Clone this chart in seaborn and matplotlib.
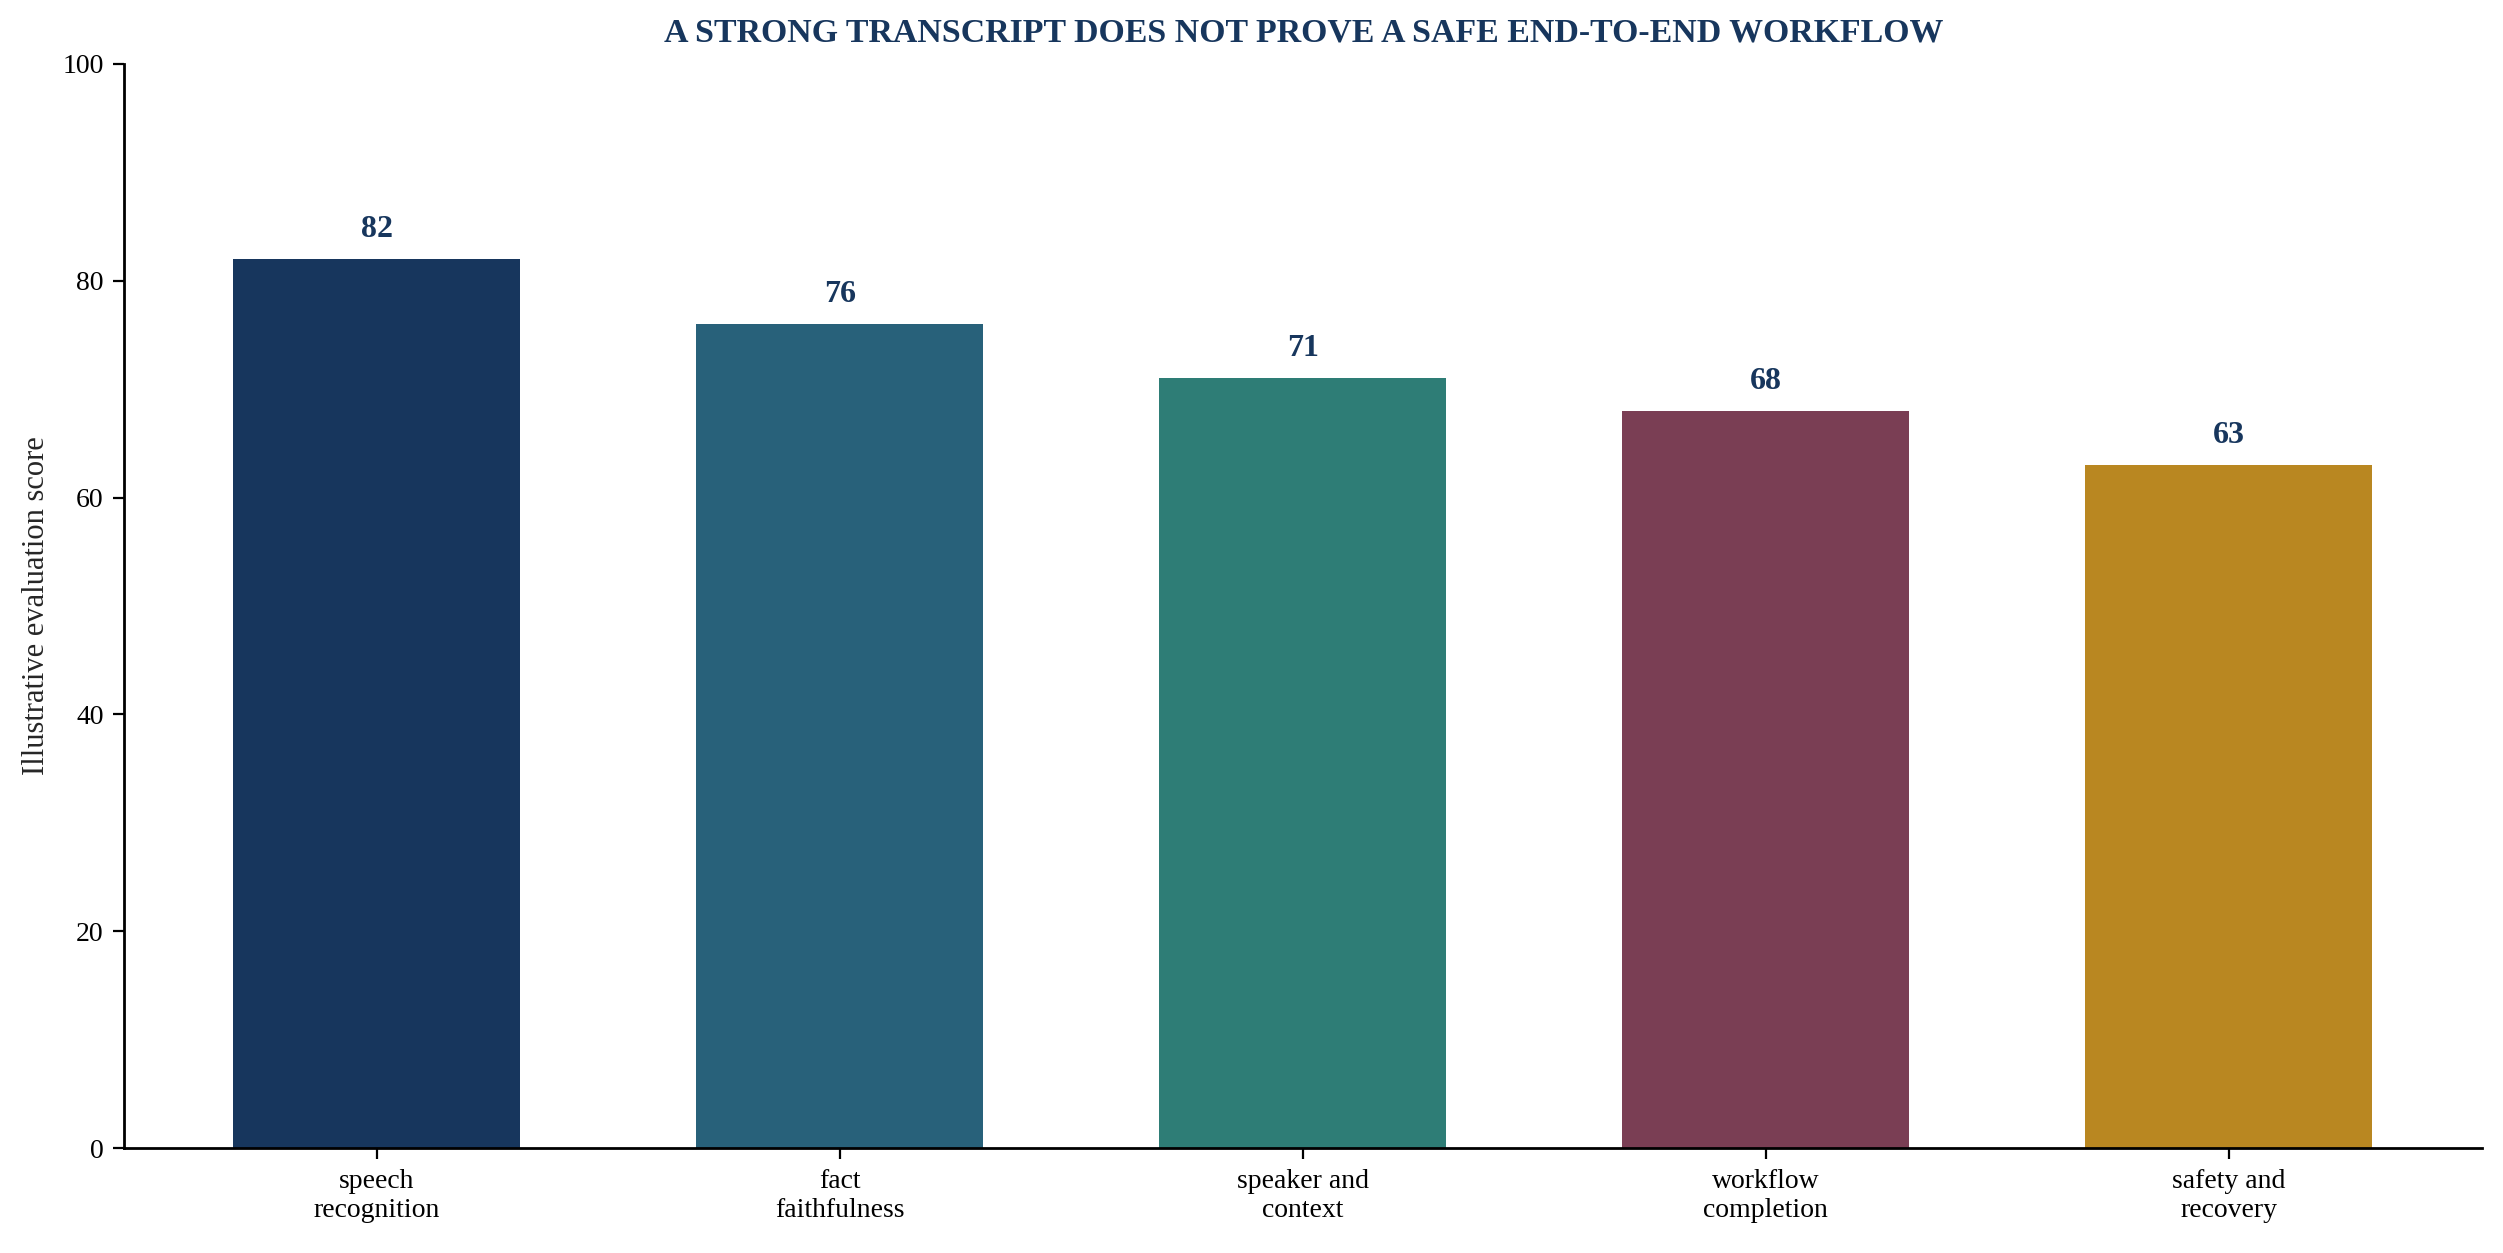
import matplotlib
matplotlib.use("Agg")
import matplotlib.pyplot as plt
import seaborn as sns
import pandas as pd

categories = ["speech\nrecognition", "fact\nfaithfulness", "speaker and\ncontext",
              "workflow\ncompletion", "safety and\nrecovery"]
scores = [82, 76, 71, 68, 63]
colors = ["#17365D", "#28617A", "#2E7D76", "#7A3E54", "#B98721"]
yticks = [0, 20, 40, 60, 80, 100]

sns.set_theme(style="white")
plt.rcParams["font.family"] = ["Liberation Serif", "DejaVu Serif"]

df = pd.DataFrame({"category": categories, "score": scores})

fig, ax = plt.subplots(figsize=(12.515, 6.265), dpi=200)
fig.subplots_adjust(left=0.0497, right=0.9917, top=0.949, bottom=0.0837)

sns.barplot(data=df, x="category", y="score", hue="category", palette=colors,
            width=0.62, legend=False, ax=ax, saturation=1, linewidth=0)

for i, v in enumerate(scores):
    ax.text(i, v + 1.4, f"{v}", ha="center", va="bottom", fontsize=11.5,
            fontweight="bold", color="#17365D")

ax.set_xlim(-0.545, 4.548)
ax.set_ylim(0, 100)
ax.set_yticks(yticks)
ax.set_xlabel("")
ax.set_ylabel("Illustrative evaluation score", fontsize=11)
ax.set_title("A STRONG TRANSCRIPT DOES NOT PROVE A SAFE END-TO-END WORKFLOW",
             fontsize=12.2, fontweight="bold", color="#17365D", pad=8)
ax.tick_params(axis="both", labelsize=10, colors="black", length=4, width=0.8,
               direction="out", bottom=True, left=True)
for s in ["top", "right"]:
    ax.spines[s].set_visible(False)
for s in ["left", "bottom"]:
    ax.spines[s].set_color("black")
    ax.spines[s].set_linewidth(1.0)

fig.savefig("out.png", dpi=200)
